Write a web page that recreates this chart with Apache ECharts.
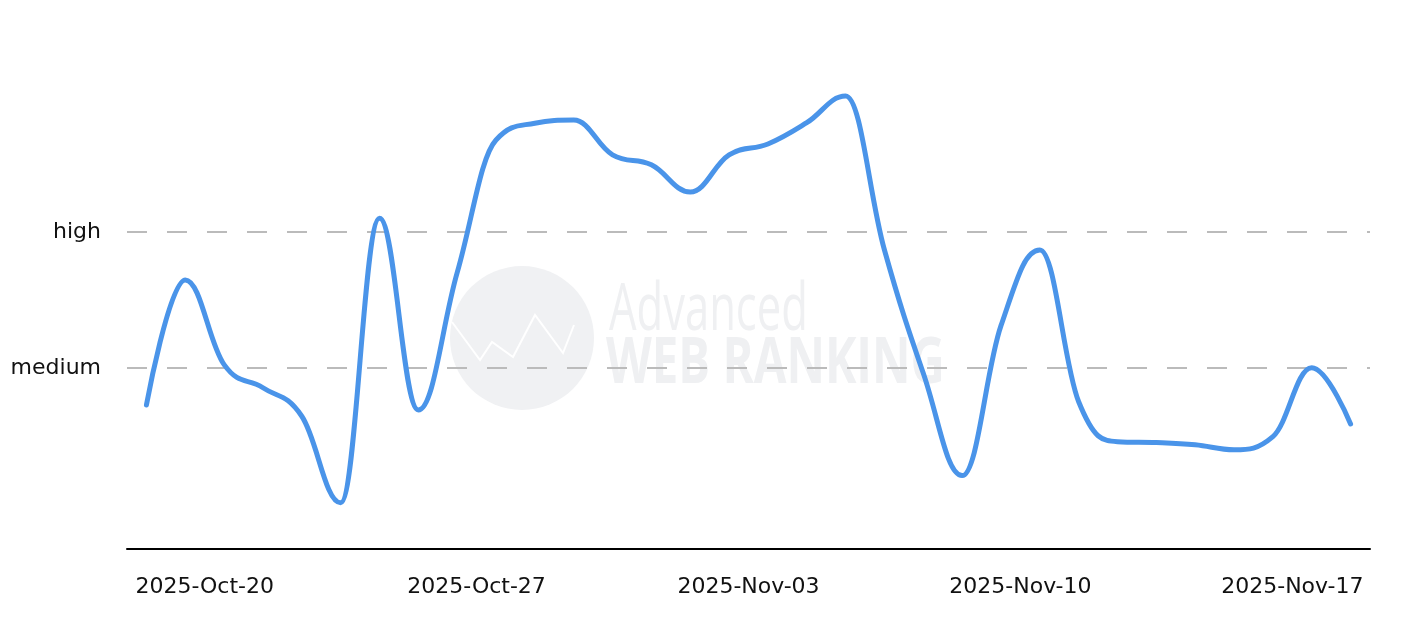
<!DOCTYPE html>
<html>
<head>
<meta charset="utf-8">
<script src="https://cdn.jsdelivr.net/npm/echarts@6/dist/echarts.min.js"></script>
<style>
html,body{margin:0;padding:0;background:#fff;}
#chart{width:1424px;height:628px;}
</style>
</head>
<body>
<div id="chart"></div>
<script>
// ---- data ----
const axisStart = '2025-10-18';
const axisEnd = '2025-11-19';
const dates = [
  '2025-10-18','2025-10-19','2025-10-20','2025-10-21','2025-10-22','2025-10-23','2025-10-24','2025-10-25',
  '2025-10-26','2025-10-27','2025-10-28','2025-10-29','2025-10-30','2025-10-31','2025-11-01','2025-11-02',
  '2025-11-03','2025-11-04','2025-11-05','2025-11-06','2025-11-07','2025-11-08','2025-11-09','2025-11-10',
  '2025-11-11','2025-11-12','2025-11-13','2025-11-14','2025-11-15','2025-11-16','2025-11-17','2025-11-18'
];
const values = [
  3.18, 5.94, 4.07, 3.56, 2.93, 1.02, 7.30, 3.07,
  6.10, 9.03, 9.40, 9.47, 8.70, 8.48, 7.88, 8.70,
  8.94, 9.41, 10.0, 6.60, 3.88, 1.62, 4.93, 6.60,
  3.25, 2.37, 2.35, 2.30, 2.19, 2.48, 4.00, 2.76
];
const xLabelDates = ['2025-10-20','2025-10-27','2025-11-03','2025-11-10','2025-11-17'];
const xLabels = ['2025-Oct-20','2025-Oct-27','2025-Nov-03','2025-Nov-10','2025-Nov-17'];
const yTickValues = [4, 7];
const yTickLabels = ['medium', 'high'];
const yMin = 0, yMax = 10;

// ---- helpers ----
const DAY = 86400000;
const t0 = Date.parse(axisStart + 'T00:00:00Z');
const dayOf = d => (Date.parse(d + 'T00:00:00Z') - t0) / DAY;
const xMax = dayOf(axisEnd);
const seriesData = dates.map((d, i) => [dayOf(d) + 0.5, values[i]]);
const xLabelPos = xLabelDates.map(dayOf);

const splitColors = [];
for (let v = yMin; v <= yMax; v++) {
  splitColors.push(yTickValues.indexOf(v) >= 0 ? '#bbbbbb' : 'rgba(0,0,0,0)');
}

// spline path (control points like a classic "spline" chart), points in pixels
function splinePath(pts) {
  const n = pts.length;
  const lc = new Array(n), rc = new Array(n);
  const s = 1.5, den = s + 1;
  for (let i = 1; i < n - 1; i++) {
    const [x, y] = pts[i], [lx, ly] = pts[i - 1], [nx, ny] = pts[i + 1];
    let lcx = (s * x + lx) / den, lcy = (s * y + ly) / den;
    let rcx = (s * x + nx) / den, rcy = (s * y + ny) / den;
    let corr = 0;
    if (rcx !== lcx) corr = ((rcy - lcy) * (rcx - x)) / (rcx - lcx) + y - rcy;
    lcy += corr; rcy += corr;
    if (lcy > ly && lcy > y) { lcy = Math.max(ly, y); rcy = 2 * y - lcy; }
    else if (lcy < ly && lcy < y) { lcy = Math.min(ly, y); rcy = 2 * y - lcy; }
    if (rcy > ny && rcy > y) { rcy = Math.max(ny, y); lcy = 2 * y - rcy; }
    else if (rcy < ny && rcy < y) { rcy = Math.min(ny, y); lcy = 2 * y - rcy; }
    lc[i] = [lcx, lcy]; rc[i] = [rcx, rcy];
  }
  let d = 'M' + pts[0][0] + ',' + pts[0][1];
  for (let i = 1; i < n; i++) {
    const c1 = rc[i - 1] || pts[i - 1];
    const c2 = lc[i] || pts[i];
    d += 'C' + c1[0] + ',' + c1[1] + ',' + c2[0] + ',' + c2[1] + ',' + pts[i][0] + ',' + pts[i][1];
  }
  return d;
}

const font = 'DejaVu Sans';
const chart = echarts.init(document.getElementById('chart'), null, {renderer: 'canvas'});
chart.setOption({
  animation: false,
  backgroundColor: '#ffffff',
  grid: {left: 127, right: 54, top: 96, bottom: 79, containLabel: false, outerBoundsMode: 'none'},
  xAxis: {
    type: 'value',
    min: 0,
    max: xMax,
    axisLine: {show: true, onZero: false, lineStyle: {color: '#000', width: 2}},
    axisTick: {show: false},
    splitLine: {show: false},
    axisLabel: {
      customValues: xLabelPos,
      showMinLabel: true, showMaxLabel: true,
      margin: 27,
      color: '#111',
      fontFamily: font,
      fontSize: 22,
      formatter: v => {
        const k = xLabelPos.findIndex(p => Math.abs(p - v) < 1e-6);
        return k >= 0 ? xLabels[k] : '';
      }
    }
  },
  yAxis: {
    type: 'value',
    min: yMin,
    max: yMax,
    interval: 1,
    axisLine: {show: false},
    axisTick: {show: false},
    splitLine: {show: true, lineStyle: {color: splitColors, width: 2, type: [20, 20]}},
    axisLabel: {
      margin: 26,
      color: '#111',
      fontFamily: font,
      fontSize: 22,
      formatter: v => {
        const k = yTickValues.indexOf(v);
        return k >= 0 ? yTickLabels[k] : '';
      }
    }
  },
  graphic: [
    {type: 'circle', z: -10, silent: true, shape: {cx: 522, cy: 338, r: 72}, style: {fill: '#f0f1f3'}},
    {type: 'polyline', z: -9, silent: true,
     shape: {points: [[452,322],[480,360],[492,342],[513,357],[535,315],[563,353],[574,325]]},
     style: {stroke: '#ffffff', lineWidth: 2, fill: null}},
    {type: 'text', z: -10, silent: true, x: 609, y: 278, scaleX: 0.66,
     style: {text: 'Advanced', fill: '#eff0f2', font: '400 66px "Open Sans"', textVerticalAlign: 'top'}},
    {type: 'text', z: -10, silent: true, x: 606, y: 333, scaleX: 0.74,
     style: {text: 'WEB RANKING', fill: '#eff0f2', font: 'bold 64px "Open Sans"', textVerticalAlign: 'top'}}
  ],
  series: [{
    type: 'custom',
    data: seriesData,
    encode: {x: 0, y: 1},
    z: 5,
    renderItem: (params, api) => {
      if (params.dataIndex !== 0) return null;
      const pts = seriesData.map(p => api.coord(p));
      return {
        type: 'path',
        shape: {pathData: splinePath(pts)},
        style: {stroke: '#4a94e9', lineWidth: 5, fill: 'none', lineJoin: 'round', lineCap: 'round'}
      };
    }
  }]
});
</script>
</body>
</html>
